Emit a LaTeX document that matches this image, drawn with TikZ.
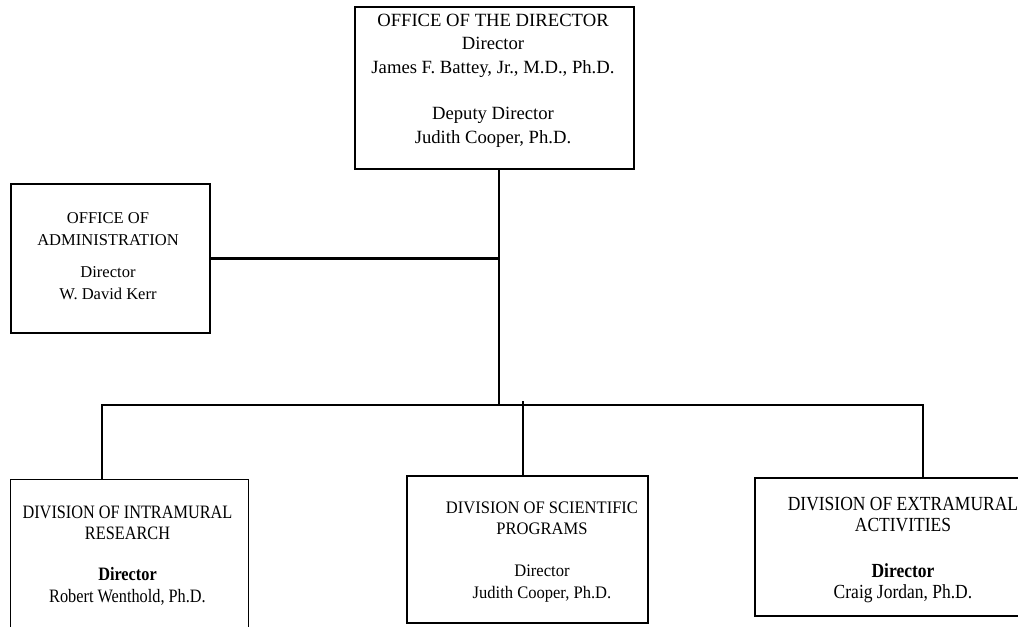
\documentclass[tikz,border=0pt]{standalone}
\usepackage{fontspec}
\setmainfont{Liberation Serif}
% condensed cuts of the same serif for the narrower boxes
\newfontfamily\intrafont[FakeStretch=0.86]{Liberation Serif}
\newfontfamily\scifont[FakeStretch=0.94]{Liberation Serif}
\newfontfamily\extrafont[FakeStretch=0.875]{Liberation Serif}

\tikzset{
  orgbox/.style={draw, line width=#1, inner sep=0pt, anchor=north west},
  orgbox/.default=1.3pt,
  orgtext/.style={anchor=base, align=center, inner sep=0pt},
  conn/.style={line width=2pt, line join=miter, line cap=rect},
}

\begin{document}
\begin{tikzpicture}[x=0.75pt, y=-0.75pt]
\useasboundingbox (0,0) rectangle (1018,626);
\clip (0,0) rectangle (1018,626);

% boxes
\node[orgbox=1.5pt, minimum width=279*0.75pt, minimum height=162*0.75pt] (top) at (354,6) {};
\node[orgbox=1.5pt, minimum width=199*0.75pt, minimum height=149*0.75pt] (admin) at (10,183) {};
\node[orgbox=1.1pt, minimum width=238*0.75pt, minimum height=175*0.75pt] (intra) at (10,479) {};
\node[orgbox=1.4pt, minimum width=241*0.75pt, minimum height=147*0.75pt] (sci) at (406,475) {};
\node[orgbox=1.4pt, minimum width=298*0.75pt, minimum height=138*0.75pt] (extra) at (754,477) {};

% box texts (each node sits on the baseline of its last line)
\node[orgtext, font=\fontsize{14}{17.6}\selectfont] (topT) at (493,143)
  {OFFICE OF THE DIRECTOR\\Director\\James F. Battey, Jr., M.D., Ph.D.\\[17pt]Deputy Director\\Judith Cooper, Ph.D.};
\node[orgtext, font=\fontsize{12.4}{16.2}\selectfont] (adminT) at (108,299)
  {OFFICE OF\\ADMINISTRATION\\[8pt]Director\\W. David Kerr};
\node[orgtext, font=\intrafont\fontsize{14.2}{15.8}\selectfont] (intraT) at (127.5,602)
  {DIVISION OF INTRAMURAL\\RESEARCH\\[15pt]\bfseries Director\\Robert Wenthold, Ph.D.};
\node[orgtext, font=\scifont\fontsize{13.2}{16.2}\selectfont] (sciT) at (542,598)
  {DIVISION OF SCIENTIFIC\\PROGRAMS\\[15pt]Director\\Judith Cooper, Ph.D.};
\node[orgtext, font=\extrafont\fontsize{15}{15.5}\selectfont] (extraT) at (903,598)
  {DIVISION OF EXTRAMURAL\\ACTIVITIES\\[19pt]\bfseries Director\\Craig Jordan, Ph.D.};

% junction points of the connector tree
\coordinate (hub) at (499,405);
\coordinate (busL) at (102,405);
\coordinate (busR) at (923,405);
\coordinate (sciJ) at (523,402);

% connectors
\draw[conn] (top.south -| hub) -- (hub);
\draw[conn] (admin.east) -- (admin.east -| hub);
\draw[conn] (busL |- intra.north) -- (busL) -- (busR) -- (busR |- extra.north);
\draw[conn] (sciJ) -- (sciJ |- sci.north);
\end{tikzpicture}
\end{document}
